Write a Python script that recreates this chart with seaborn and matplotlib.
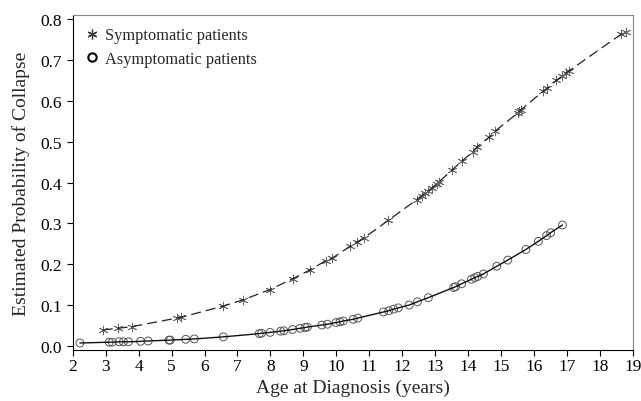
import numpy as np
import pandas as pd
import matplotlib
matplotlib.use("Agg")
import matplotlib.pyplot as plt
from matplotlib.lines import Line2D
import seaborn as sns

# ----------------------------------------------------------
# Values
# ----------------------------------------------------------
sym_age = [2.91, 3.37, 3.79, 5.16, 5.29, 6.55, 7.18, 7.99, 8.67, 9.20,
           9.69, 9.88, 10.42, 10.62, 10.85, 11.57, 12.44, 12.59, 12.69, 12.79,
           12.90, 13.04, 13.12, 13.50, 13.80, 14.14, 14.28, 14.64, 14.82, 15.50,
           15.55, 15.60, 16.28, 16.40, 16.67, 16.84, 16.97, 17.07, 18.64, 18.78]
sym_prob = [0.039, 0.043, 0.047, 0.068, 0.070, 0.097, 0.113, 0.138, 0.164, 0.186,
            0.209, 0.215, 0.244, 0.254, 0.265, 0.307, 0.358, 0.368, 0.374, 0.380,
            0.386, 0.397, 0.402, 0.430, 0.452, 0.475, 0.488, 0.511, 0.526, 0.570,
            0.574, 0.578, 0.624, 0.631, 0.650, 0.660, 0.669, 0.674, 0.763, 0.769]

asym_age = [2.22, 3.11, 3.20, 3.41, 3.54, 3.69, 4.06, 4.29, 4.92, 4.96,
            5.43, 5.69, 6.57, 7.66, 7.73, 7.99, 8.31, 8.41, 8.67, 8.90,
            9.05, 9.12, 9.56, 9.73, 9.99, 10.11, 10.21, 10.51, 10.65, 11.43,
            11.59, 11.74, 11.88, 12.21, 12.46, 12.79, 13.56, 13.62, 13.80, 14.10,
            14.20, 14.29, 14.46, 14.87, 15.20, 15.75, 16.13, 16.38, 16.50, 16.86]
asym_prob = [0.007, 0.009, 0.009, 0.010, 0.010, 0.010, 0.011, 0.012, 0.014, 0.014,
             0.016, 0.017, 0.022, 0.030, 0.031, 0.033, 0.036, 0.037, 0.040, 0.043,
             0.045, 0.046, 0.051, 0.053, 0.057, 0.059, 0.061, 0.065, 0.068, 0.083,
             0.086, 0.090, 0.093, 0.100, 0.108, 0.118, 0.143, 0.145, 0.152, 0.163,
             0.167, 0.170, 0.176, 0.195, 0.210, 0.236, 0.256, 0.270, 0.277, 0.296]

x_ticks = list(range(2, 20))
y_ticks = [0.0, 0.1, 0.2, 0.3, 0.4, 0.5, 0.6, 0.7, 0.8]

sym = pd.DataFrame({"age": sym_age, "prob": sym_prob})
asym = pd.DataFrame({"age": asym_age, "prob": asym_prob})

sns.set_style("white")
plt.rcParams["font.family"] = ["Liberation Serif", "DejaVu Serif"]

fig = plt.figure(figsize=(6.41, 4.02), dpi=100)
ax = fig.add_axes([0.1134, 0.127, 0.8741, 0.833])

# fitted curves
sns.lineplot(data=sym, x="age", y="prob", ax=ax, color="#222222",
             linewidth=0.9, linestyle=(0, (8, 4)))
sns.lineplot(data=asym, x="age", y="prob", ax=ax, color="#111111",
             linewidth=1.0)

# patient markers
sns.scatterplot(data=sym, x="age", y="prob", ax=ax, marker=(6, 2, 0),
                s=40, color="#666666", linewidth=0.6)
sns.scatterplot(data=asym, x="age", y="prob", ax=ax, marker="o",
                s=32, facecolor="none", edgecolor="#555555", linewidth=0.7)

ax.set_xlim(2, 19)
ax.set_ylim(-0.01, 0.81)
ax.set_xticks(x_ticks)
ax.set_yticks(y_ticks)
ax.set_yticklabels([f"{v:.1f}" for v in y_ticks])
ax.tick_params(axis="both", direction="out", length=4, width=0.8,
               labelsize=12.5, colors="black", left=True, bottom=True)
ax.tick_params(axis="x", pad=2)

for side in ["left", "bottom"]:
    ax.spines[side].set_color("black")
    ax.spines[side].set_linewidth(0.8)
for side in ["top", "right"]:
    ax.spines[side].set_color("#888888")
    ax.spines[side].set_linewidth(0.8)

ax.set_xlabel("Age at Diagnosis (years)", fontsize=14, labelpad=3)
ax.set_ylabel("Estimated Probability of Collapse", fontsize=14, labelpad=8)

handles = [
    Line2D([], [], linestyle="none", marker=(6, 2, 0), markersize=7,
           color="#333333", markeredgewidth=0.9),
    Line2D([], [], linestyle="none", marker="o", markersize=6,
           markerfacecolor="none", markeredgecolor="black", markeredgewidth=1.5),
]
ax.legend(handles, ["Symptomatic patients", "Asymptomatic patients"],
          loc="upper left", frameon=False, fontsize=11.8, handlelength=0.8,
          handletextpad=0.4, borderaxespad=0.35, labelspacing=0.45)

fig.savefig("out.png", dpi=100)
